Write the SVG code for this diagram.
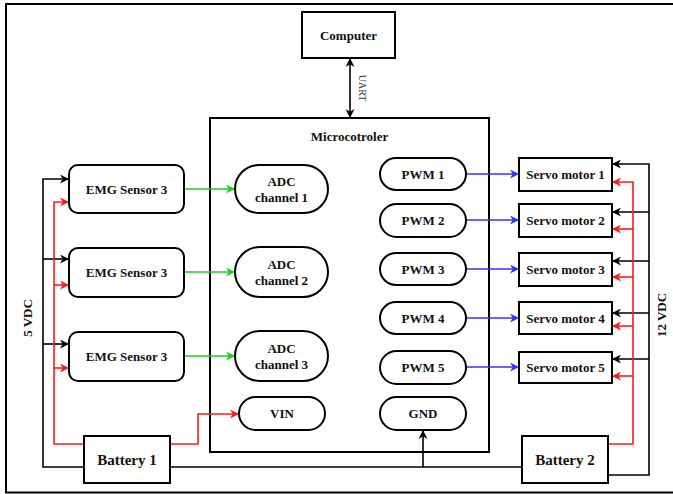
<svg xmlns="http://www.w3.org/2000/svg" width="673" height="494" viewBox="0 0 673 494">
<style>
.box{fill:#fff;stroke:#000;stroke-width:2}
.frame{fill:none;stroke:#000;stroke-width:2}
.t{font-family:"Liberation Serif","Times New Roman",serif;font-weight:bold;font-size:13px;fill:#111;text-anchor:middle;dominant-baseline:central}
.big{font-size:15px}
.c{fill:none;stroke-width:1.6}
.k{stroke:#000}
.r{stroke:#ff1a1a}
.g{stroke:#1ad11a}
.b{stroke:#3333ff}
</style>
<defs>
<marker id="ak" viewBox="0 0 10 10" refX="10" refY="5" markerWidth="9" markerHeight="9" markerUnits="userSpaceOnUse" orient="auto-start-reverse"><path d="M0,0 L10,5 L0,10 L3,5 z" fill="#000"/></marker>
<marker id="ar" viewBox="0 0 10 10" refX="10" refY="5" markerWidth="9" markerHeight="9" markerUnits="userSpaceOnUse" orient="auto"><path d="M0,0 L10,5 L0,10 L3,5 z" fill="#ff1a1a"/></marker>
<marker id="ag" viewBox="0 0 10 10" refX="10" refY="5" markerWidth="9" markerHeight="9" markerUnits="userSpaceOnUse" orient="auto"><path d="M0,0 L10,5 L0,10 L3,5 z" fill="#1ad11a"/></marker>
<marker id="ab" viewBox="0 0 10 10" refX="10" refY="5" markerWidth="9" markerHeight="9" markerUnits="userSpaceOnUse" orient="auto"><path d="M0,0 L10,5 L0,10 L3,5 z" fill="#3333ff"/></marker>
</defs>
<rect x="0" y="0" width="673" height="494" fill="#fff"/>
<rect x="6" y="4" width="672" height="488.5" fill="none" stroke="#000" stroke-width="2"/>

<g id="microcontroller"><rect class="frame" x="210" y="118" width="279" height="334"/><text class="t" x="349.5" y="136">Microcotroler</text></g>

<g id="connectors">
<path class="c k" d="M350,58 L350,118" marker-start="url(#ak)" marker-end="url(#ak)"/>
<path class="c k" d="M84,467 L43,467 L43,179 L69,179" marker-end="url(#ak)"/>
<path class="c k" d="M43,259 L69,259" marker-end="url(#ak)"/>
<path class="c k" d="M43,344 L69,344" marker-end="url(#ak)"/>
<path class="c r" d="M84,444 L54,444 L54,202 L69,202" marker-end="url(#ar)"/>
<path class="c r" d="M54,285 L69,285" marker-end="url(#ar)"/>
<path class="c r" d="M54,368 L69,368" marker-end="url(#ar)"/>
<path class="c r" d="M170,444 L198,444 L198,414 L239,414" marker-end="url(#ar)"/>
<path class="c k" d="M170,467 L522,467"/>
<path class="c k" d="M423,467 L423,430" marker-end="url(#ak)"/>
<path class="c g" d="M184,189 L235,189" marker-end="url(#ag)"/>
<path class="c g" d="M184,272 L235,272" marker-end="url(#ag)"/>
<path class="c g" d="M184,356 L235,356" marker-end="url(#ag)"/>
<path class="c b" d="M466,174 L519,174" marker-end="url(#ab)"/>
<path class="c b" d="M466,220 L519,220" marker-end="url(#ab)"/>
<path class="c b" d="M466,269 L519,269" marker-end="url(#ab)"/>
<path class="c b" d="M466,318 L519,318" marker-end="url(#ab)"/>
<path class="c b" d="M466,367 L519,367" marker-end="url(#ab)"/>
<path class="c k" d="M608,475 L649,475 L649,164 L612,164" marker-end="url(#ak)"/>
<path class="c k" d="M649,212 L612,212" marker-end="url(#ak)"/>
<path class="c k" d="M649,261 L612,261" marker-end="url(#ak)"/>
<path class="c k" d="M649,313 L612,313" marker-end="url(#ak)"/>
<path class="c k" d="M649,359 L612,359" marker-end="url(#ak)"/>
<path class="c r" d="M608,444 L633,444 L633,182 L612,182" marker-end="url(#ar)"/>
<path class="c r" d="M633,229 L612,229" marker-end="url(#ar)"/>
<path class="c r" d="M633,277 L612,277" marker-end="url(#ar)"/>
<path class="c r" d="M633,326 L612,326" marker-end="url(#ar)"/>
<path class="c r" d="M633,376 L612,376" marker-end="url(#ar)"/>
<text x="362" y="88" transform="rotate(90 362 88)" font-family="Liberation Serif, serif" font-size="10" fill="#333" text-anchor="middle" dominant-baseline="central">UART</text>
<text class="t" x="27" y="318" transform="rotate(-90 27 318)">5 VDC</text>
<text class="t" x="661" y="315" transform="rotate(-90 661 315)">12 VDC</text>
</g>

<g id="computer"><rect class="box" x="302" y="12" width="93" height="46"/><text class="t" x="348.5" y="35">Computer</text></g>

<g id="emg1"><rect class="box" x="69" y="165" width="115" height="48" rx="9"/><text class="t" x="126.5" y="189">EMG Sensor 3</text></g>
<g id="emg2"><rect class="box" x="69" y="248" width="115" height="49" rx="9"/><text class="t" x="126.5" y="272.5">EMG Sensor 3</text></g>
<g id="emg3"><rect class="box" x="69" y="332" width="115" height="49" rx="9"/><text class="t" x="126.5" y="356.5">EMG Sensor 3</text></g>

<g id="adc1"><rect class="box" x="235" y="165" width="93" height="48" rx="24"/><text class="t" x="281.5" y="181">ADC</text><text class="t" x="281.5" y="197">channel 1</text></g>
<g id="adc2"><rect class="box" x="235" y="247" width="93" height="50" rx="25"/><text class="t" x="281.5" y="264">ADC</text><text class="t" x="281.5" y="280">channel 2</text></g>
<g id="adc3"><rect class="box" x="235" y="331" width="93" height="50" rx="25"/><text class="t" x="281.5" y="348">ADC</text><text class="t" x="281.5" y="364">channel 3</text></g>
<g id="vin"><rect class="box" x="239" y="397" width="86" height="33" rx="16.5"/><text class="t" x="282" y="413.5">VIN</text></g>

<g id="pwm1"><rect class="box" x="380" y="158" width="86" height="32" rx="16"/><text class="t" x="423" y="174">PWM 1</text></g>
<g id="pwm2"><rect class="box" x="380" y="204" width="86" height="33" rx="16.5"/><text class="t" x="423" y="220.5">PWM 2</text></g>
<g id="pwm3"><rect class="box" x="380" y="253" width="86" height="32" rx="16"/><text class="t" x="423" y="269">PWM 3</text></g>
<g id="pwm4"><rect class="box" x="380" y="302" width="86" height="32" rx="16"/><text class="t" x="423" y="318">PWM 4</text></g>
<g id="pwm5"><rect class="box" x="380" y="351" width="86" height="33" rx="16.5"/><text class="t" x="423" y="367.5">PWM 5</text></g>
<g id="gnd"><rect class="box" x="380" y="397" width="86" height="33" rx="16.5"/><text class="t" x="423" y="413.5">GND</text></g>

<g id="servo1"><rect class="box" x="519" y="158" width="93" height="33"/><text class="t" x="565.5" y="174.5">Servo motor 1</text></g>
<g id="servo2"><rect class="box" x="519" y="204" width="93" height="33"/><text class="t" x="565.5" y="220.5">Servo motor 2</text></g>
<g id="servo3"><rect class="box" x="519" y="253" width="93" height="33"/><text class="t" x="565.5" y="269.5">Servo motor 3</text></g>
<g id="servo4"><rect class="box" x="519" y="302" width="93" height="32"/><text class="t" x="565.5" y="318">Servo motor 4</text></g>
<g id="servo5"><rect class="box" x="519" y="352" width="93" height="31"/><text class="t" x="565.5" y="367.5">Servo motor 5</text></g>

<g id="battery1"><rect class="box" x="84" y="436" width="86" height="47"/><text class="t big" x="127" y="460">Battery 1</text></g>
<g id="battery2"><rect class="box" x="522" y="436" width="86" height="47"/><text class="t big" x="565" y="460">Battery 2</text></g>
</svg>
